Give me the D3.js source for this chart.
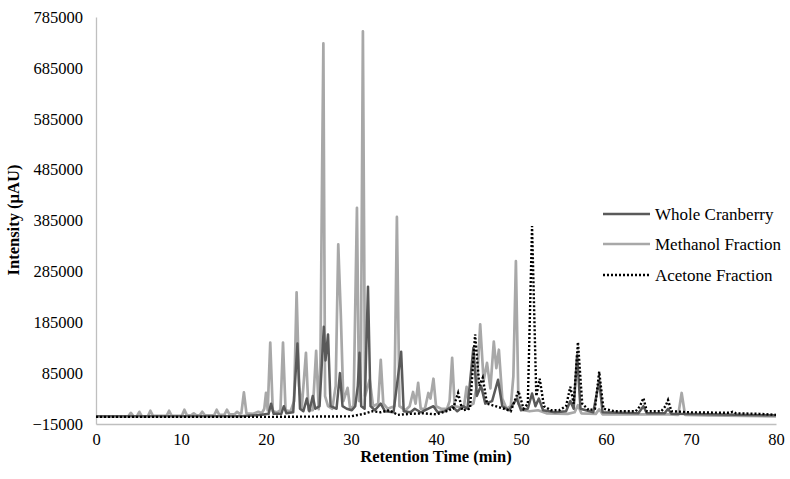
<!DOCTYPE html>
<html><head><meta charset="utf-8">
<script src="https://cdn.jsdelivr.net/npm/d3@7"></script>
<style>body{margin:0;background:#fff}svg{display:block}text{font-family:"Liberation Serif","Times New Roman",serif;fill:#000}</style>
</head><body><svg id="c" width="790" height="479"></svg>
<script>
const xTicks = [0,10,20,30,40,50,60,70,80];
const yTicks = [-15000,85000,185000,285000,385000,485000,585000,685000,785000];
const seriesNames = ["Whole Cranberry","Methanol Fraction","Acetone Fraction"];

const methanol = [[0,0],[3.8,0],[4.1,7000],[4.4,0],[4.8,0],[5.1,9000],[5.4,0],[6.1,0],[6.4,11000],[6.7,1000],[8.3,1000],[8.6,11000],[8.9,1000],[10.1,1000],[10.4,13000],[10.7,2000],[11.2,2000],[11.5,6000],[11.8,2000],[12.2,2000],[12.5,9000],[12.8,2000],[13.9,2000],[14.2,13000],[14.5,3000],[15.1,3000],[15.4,13000],[15.7,4000],[16.3,4000],[16.6,9000],[16.9,5000],[17.1,6000],[17.4,47000],[17.7,6000],[18.5,5000],[19.1,9000],[19.5,6000],[19.8,15000],[20.0,46000],[20.2,12000],[20.5,145000],[20.8,10000],[21.3,8000],[21.7,12000],[22.0,145000],[22.3,12000],[22.9,10000],[23.3,30000],[23.6,244000],[23.9,60000],[24.2,15000],[24.7,125000],[25.0,12000],[25.5,12000],[25.9,129000],[26.2,14000],[26.4,100000],[26.6,480000],[26.75,733000],[26.95,40000],[27.3,20000],[27.8,15000],[28.2,60000],[28.5,338000],[28.8,200000],[29.1,30000],[29.6,56000],[29.9,15000],[30.3,20000],[30.7,410000],[30.95,30000],[31.15,60000],[31.4,757000],[31.65,40000],[32.2,72000],[32.6,20000],[33.2,25000],[33.5,111000],[33.8,25000],[34.3,15000],[35.1,20000],[35.4,392000],[35.7,20000],[36.4,12000],[36.9,20000],[37.3,48000],[37.6,25000],[37.9,66000],[38.2,15000],[38.7,15000],[39.1,46000],[39.35,35000],[39.7,74000],[40.0,20000],[40.6,15000],[41.3,15000],[41.6,30000],[41.9,115000],[42.2,20000],[42.8,18000],[43.3,20000],[43.6,58000],[43.9,20000],[44.4,25000],[44.8,60000],[45.2,181000],[45.6,70000],[46.0,105000],[46.4,55000],[46.8,147000],[47.1,95000],[47.4,131000],[47.8,35000],[48.3,15000],[48.8,20000],[49.1,78000],[49.4,305000],[49.7,25000],[50.3,12000],[51.0,10000],[52.0,12000],[53.0,6000],[55.5,5000],[56.3,8000],[56.7,22000],[57.1,6000],[58.8,5000],[59.2,14000],[59.6,4000],[64.4,4000],[67.3,4000],[68.5,3000],[68.9,46000],[69.3,3000],[72,2000],[80,0]];

const whole = [[0,0],[17,0],[19.5,3000],[20.3,5000],[20.6,25000],[20.9,5000],[21.8,5000],[22.1,20000],[22.4,6000],[23.2,8000],[23.7,143000],[24.0,15000],[24.4,10000],[24.8,35000],[25.1,10000],[25.5,40000],[25.8,15000],[26.3,20000],[26.8,176000],[27.0,110000],[27.3,161000],[27.6,20000],[28.3,15000],[28.7,85000],[29.0,20000],[29.5,15000],[30.1,12000],[30.5,20000],[30.8,60000],[31.0,125000],[31.2,20000],[31.6,15000],[32.0,255000],[32.3,20000],[32.8,12000],[33.5,25000],[34.0,10000],[35.0,8000],[35.9,127000],[36.2,10000],[37.0,8000],[37.5,15000],[38.2,8000],[39.7,20000],[40.2,8000],[41.0,10000],[41.9,20000],[42.5,10000],[43.2,20000],[43.7,15000],[44.4,135000],[44.8,40000],[45.3,60000],[45.8,25000],[46.6,30000],[47.3,72000],[47.8,20000],[48.6,12000],[49.5,35000],[50.0,12000],[50.8,15000],[51.3,45000],[51.7,20000],[52.1,35000],[52.6,12000],[54,8000],[55.3,10000],[55.8,30000],[56.2,15000],[56.6,120000],[57.0,15000],[58.5,8000],[59.2,70000],[59.6,8000],[63.8,6000],[64.4,20000],[64.8,6000],[66.9,6000],[67.3,15000],[67.7,5000],[72,4000],[80,2000]];

const acetone = [[0,-1000],[20,-1000],[30,0],[31.5,5000],[32.5,10000],[33.5,8000],[34.5,12000],[35.5,3000],[37,5000],[38.5,6000],[40,4000],[41.2,10000],[42.0,15000],[42.6,46000],[43.1,12000],[44.0,15000],[44.6,161000],[45.1,60000],[45.5,76000],[46.0,25000],[47.0,20000],[48.0,15000],[48.8,10000],[49.7,50000],[50.3,15000],[50.8,25000],[51.3,374000],[51.8,40000],[52.2,74000],[52.7,20000],[53.5,12000],[54.5,12000],[55.3,20000],[55.8,58000],[56.2,25000],[56.7,146000],[57.2,25000],[58.0,12000],[58.7,15000],[59.2,88000],[59.7,15000],[61,10000],[63.5,10000],[64.0,20000],[64.4,36000],[64.8,10000],[66.5,10000],[67.0,20000],[67.3,32000],[67.7,10000],[70,8000],[74.5,7000],[74.9,9000],[75.3,6000],[78,5000],[80,3000]];

const svg = d3.select("#c");
const x = d3.scaleLinear().domain([0,80]).range([96,776]);
const y = d3.scaleLinear().domain([-15000,785000]).range([424,17]);

const xAxis = d3.axisBottom(x).tickValues(xTicks).tickSize(0).tickPadding(9);
const yAxis = d3.axisLeft(y).tickValues(yTicks).tickSize(0).tickPadding(13).tickFormat(d3.format("d"));
const gx = svg.append("g").attr("transform","translate(0,424)").call(xAxis);
const gy = svg.append("g").attr("transform","translate(96,0)").call(yAxis);
[gx,gy].forEach(g=>{
  g.select(".domain").attr("stroke","#bfbfbf").attr("stroke-width",1.3);
  g.selectAll("text").style("font-size","16.5px").style("font-family","Liberation Serif");
});

const line = d3.line().x(d=>x(d[0])).y(d=>y(d[1]));
svg.append("path").datum(methanol).attr("d",line).attr("fill","none").attr("stroke","#a8a8a8").attr("stroke-width",2.7).attr("stroke-linejoin","round");
svg.append("path").datum(whole).attr("d",line).attr("fill","none").attr("stroke","#5a5a5a").attr("stroke-width",2.5).attr("stroke-linejoin","round");
svg.append("path").datum(acetone).attr("d",line).attr("fill","none").attr("stroke","#000").attr("stroke-width",2.4).attr("stroke-dasharray","2,2");

svg.append("text").attr("x",436).attr("y",462).attr("text-anchor","middle")
  .style("font-size","16.5px").style("font-weight","bold").text("Retention Time (min)");
svg.append("text").attr("transform","translate(19,220) rotate(-90)").attr("text-anchor","middle")
  .style("font-size","16.5px").style("font-weight","bold").text("Intensity (µAU)");

const styles = [
  {stroke:"#5a5a5a",dash:null},
  {stroke:"#a8a8a8",dash:null},
  {stroke:"#000",dash:"2,2"}
];
const ly = [214,244,275];
seriesNames.forEach((n,i)=>{
  const l = svg.append("line").attr("x1",603).attr("x2",650).attr("y1",ly[i]).attr("y2",ly[i])
    .attr("stroke",styles[i].stroke).attr("stroke-width",2.6);
  if(styles[i].dash) l.attr("stroke-dasharray",styles[i].dash);
  svg.append("text").attr("x",655).attr("y",ly[i]).attr("dy","0.35em").style("font-size","17px").text(n);
});
</script></body></html>
